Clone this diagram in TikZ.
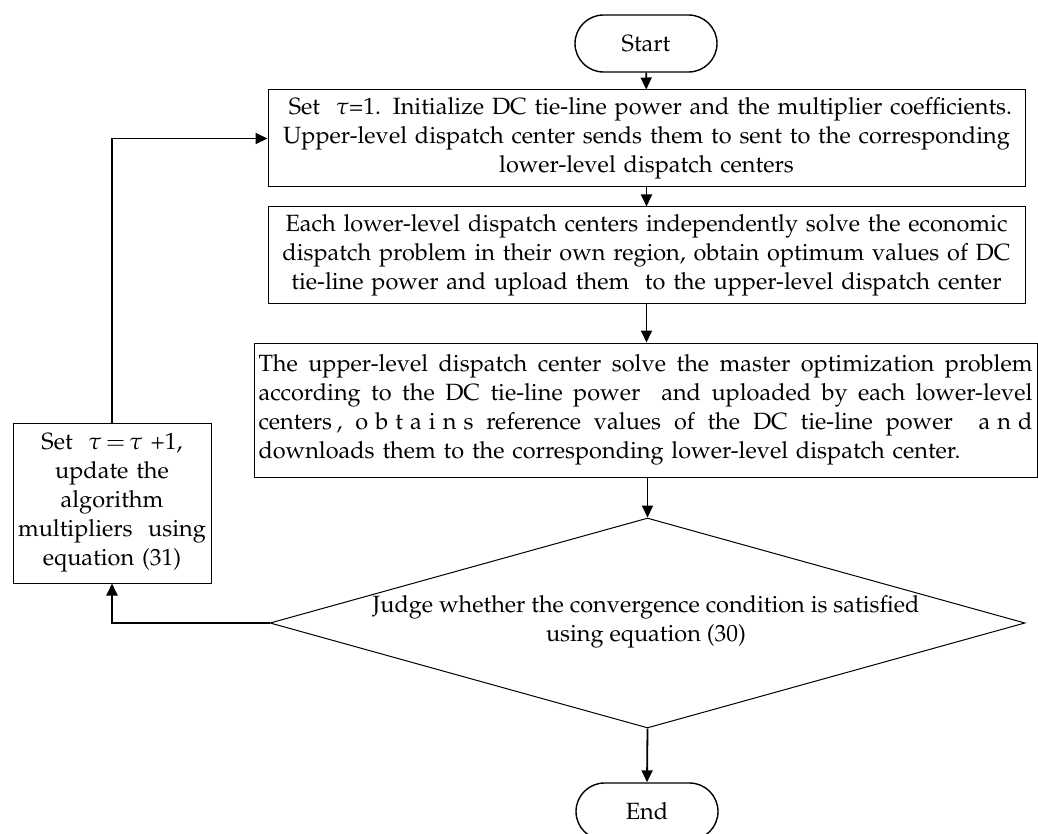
\documentclass[tikz,border=0pt]{standalone}
\usepackage[T1]{fontenc}
\usepackage{mathpazo}
\usetikzlibrary{arrows.meta,shapes.geometric,shapes.misc}
\newcommand\lsp{\kern0.3em}
\newcommand\jline[1]{\leavevmode\hbox to 774pt{\spaceskip=0.25em plus 1fil\relax #1}}
\begin{document}
\begin{tikzpicture}[x=1pt,y=-1pt,
  font=\fontsize{23.5}{29}\selectfont,
  procbox/.style={draw, line width=1pt, inner sep=0pt, align=center},
  term/.style={draw, line width=1.4pt, rounded rectangle, inner sep=0pt,
    minimum width=142pt, minimum height=57pt},
  decision/.style={draw, line width=1pt, diamond, inner sep=0pt,
    minimum width=755pt, minimum height=210pt},
  conn/.style={line width=1.8pt, -{Triangle[length=12pt,width=11pt]}}]
\useasboundingbox (0,0) rectangle (1038,834);

\node[term] (start) at (646,43.5) {Start};

\node[procbox, minimum width=757pt, minimum height=97pt, text width=754pt]
  (b1) at (646.5,138.5)
  {\ Set \ $\tau$=1. Initialize DC tie-line power and the multiplier coefficients.\\
   Upper-level dispatch center sends them to sent to the corresponding\\
   lower-level dispatch centers};

\node[procbox, minimum width=757pt, minimum height=96pt, text width=754pt]
  (b2) at (646.5,255)
  {Each lower-level dispatch centers independently solve the economic\\
   dispatch problem in their own region, obtain optimum values of DC\\
   tie-line power and upload them \ to the upper-level dispatch center};

\node[procbox, minimum width=783pt, minimum height=134pt, text width=774pt, align=left]
  (b3) at (645.5,410)
  {\jline{The upper-level dispatch center solve the master optimization problem}\\
   \jline{according to the DC tie-line power \ and uploaded by each lower-level}\\
   \jline{centers\kern0.2em,\ o\lsp b\lsp t\lsp a\lsp i\lsp n\lsp s\ reference values of the DC tie-line power \ a\lsp n\lsp d}\\
   downloads them to the corresponding lower-level dispatch center.};

\node[decision] (dec) at (647.5,623) {};
\node[align=center, inner sep=0pt] (dectext) at (646,622)
  {Judge whether the convergence condition is satisfied\\ using equation (30)};

\node[term] (end) at (647,811.5) {End};

\node[procbox, minimum width=198pt, minimum height=160pt, text width=194pt]
  (upd) at (112,503)
  {Set \ $\tau\,{=}\,\tau$ +1,\\ update the\\ algorithm\\ multipliers \ using\\ equation (31)};

\draw[conn] (start) -- (b1);
\draw[conn] (b1) -- (b2);
\draw[conn] (b2.south) -- (b2.south |- b3.north);
\draw[conn] (b3.south -| dec.north) -- (dec.north);
\draw[conn] (dec.south) -- (end.north);
\draw[conn] (dec.west) -| (upd.south);
\draw[conn] (upd.north) |- (b1.west);
\end{tikzpicture}
\end{document}
